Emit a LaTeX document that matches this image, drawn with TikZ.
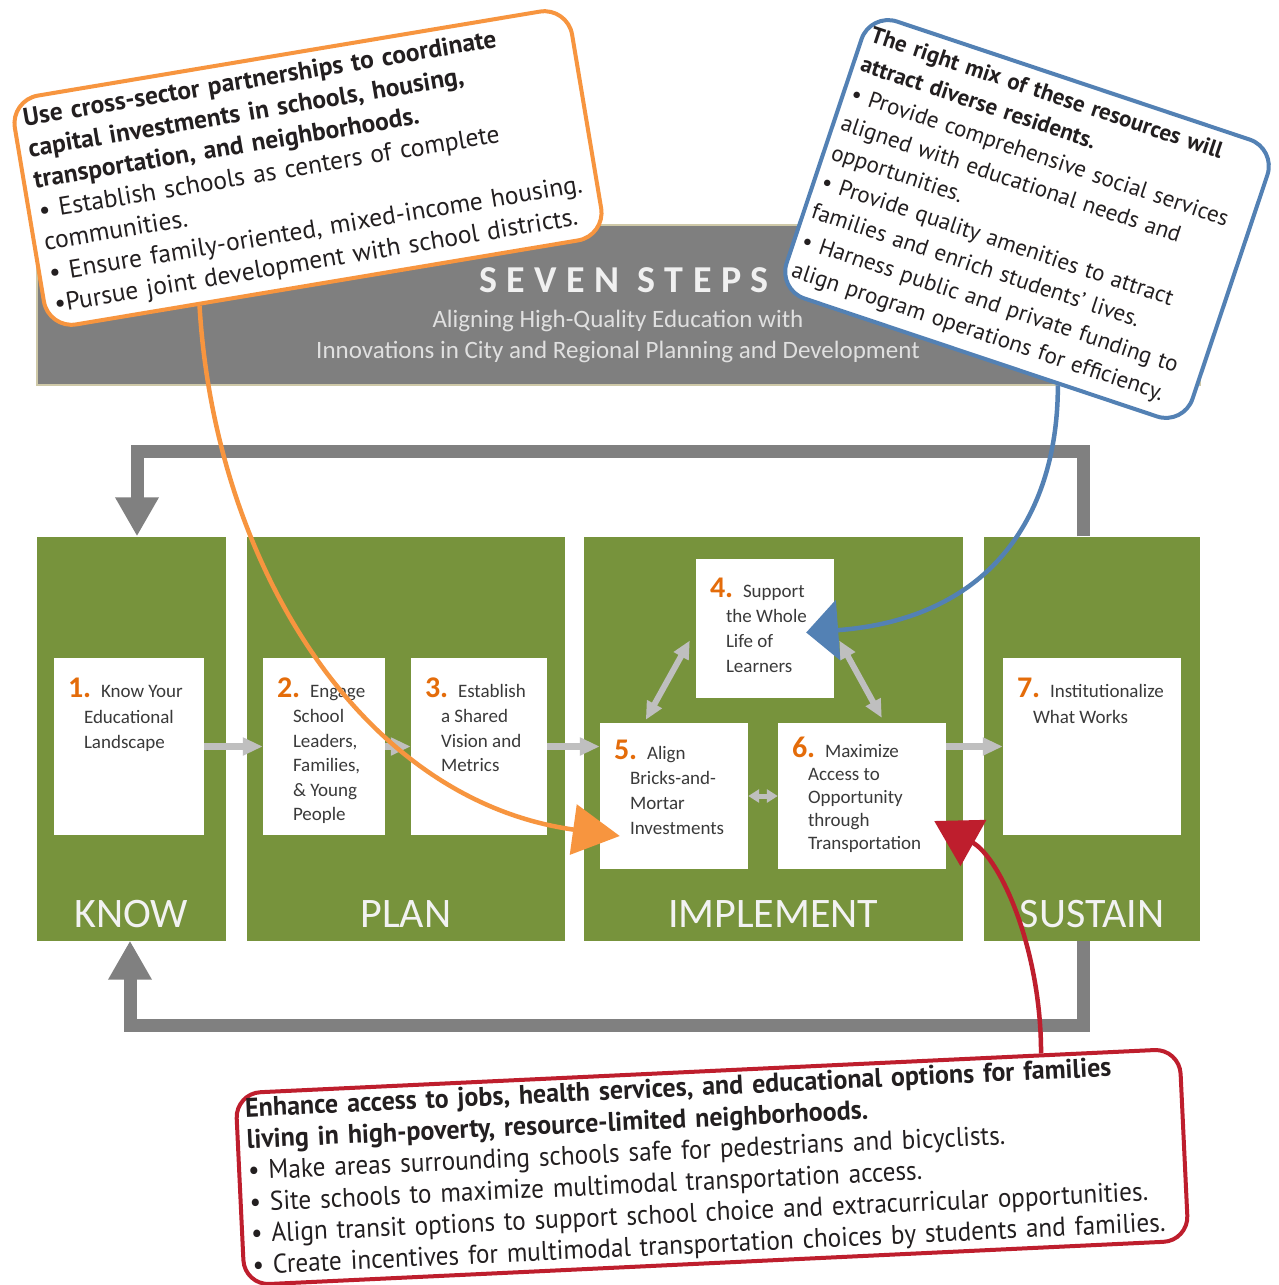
\documentclass[tikz,border=0pt]{standalone}
\usepackage{fontspec}
\usetikzlibrary{arrows.meta,calc}
\newfontfamily\carl{Carlito}
\newfontfamily\titlef[LetterSpace=25]{Carlito}
\newfontfamily\calf{PT Sans}
\newfontfamily\caln[FakeStretch=0.933]{PT Sans}
\newfontfamily\calnb[FakeStretch=0.963]{PT Sans}
\definecolor{grn}{HTML}{77933C}
\definecolor{bannergray}{HTML}{7F7F7F}
\definecolor{banneredge}{HTML}{CFC9A8}
\definecolor{loopgray}{HTML}{808080}
\definecolor{argray}{HTML}{BFBFBF}
\definecolor{numorange}{HTML}{E46C0A}
\definecolor{txtgray}{HTML}{3A3A3A}
\definecolor{corange}{HTML}{F7953F}
\definecolor{cblue}{HTML}{5381B4}
\definecolor{cred}{HTML}{BE1E2D}
\definecolor{calltext}{HTML}{231F20}
\newcommand\steplines[6]{%
  \node[stepnum, anchor=base west] (#1num) at ($(#1.north west)+(14,#6)$) {#2};
  \node[steptxt, anchor=base west] (#1first) at ($(#1.north west)+(47,#6)$) {#3};
  \foreach \t [count=\i] in {#4} {\node[steptxt, anchor=base west] (#1line\i) at ($(#1.north west)+(30,#6+\i*#5)$) {\t};}
}
\begin{document}
\begin{tikzpicture}[x=1pt,y=-1pt,
  banner/.style={fill=bannergray, draw=banneredge, line width=2pt, inner sep=0pt},
  col/.style={fill=grn, inner sep=0pt},
  stepbox/.style={fill=white, inner sep=0pt},
  steptxt/.style={font=\carl\fontsize{19}{24}\selectfont, text=txtgray, inner sep=0pt},
  stepnum/.style={font=\carl\bfseries\fontsize{30}{30}\selectfont, text=numorange, inner sep=0pt},
  lbl/.style={font=\carl\fontsize{42}{42}\selectfont, text=white!95!black, inner sep=0pt},
  loopline/.style={draw=loopgray, line width=13pt, line join=miter, -{Triangle[length=39pt,width=41pt]}},
  stepar/.style={draw=argray, line width=7pt, -{Triangle[length=20pt,width=17pt]}},
  stepdbl/.style={draw=argray, line width=6pt, {Triangle[length=18pt,width=16pt]}-{Triangle[length=18pt,width=16pt]}},
  stepdblsmall/.style={draw=argray, line width=5pt, {Triangle[length=11pt,width=13pt]}-{Triangle[length=11pt,width=13pt]}},
  callout/.style={fill=white, line width=4pt, rounded corners=28pt, inner xsep=10pt, inner ysep=0pt, align=left, text=calltext},
  conn/.style={line width=4.5pt}
]
\useasboundingbox (0,0) rectangle (1279,1285);
\fill[white] (0,0) rectangle (1279,1285);

% banner
\node[banner, minimum width=1163pt, minimum height=160pt] (banner) at (618.5,305) {};
\node[font=\titlef\bfseries\fontsize{38}{38}\selectfont, text=white!94!black, anchor=base, inner sep=0pt] (title) at (624,292) {SEVEN STEPS};
\node[font=\carl\fontsize{25}{25}\selectfont, text=white!88!black, anchor=base, inner sep=0pt] (sub1) at (618,327) {Aligning High-Quality Education with};
\node[font=\carl\fontsize{25}{25}\selectfont, text=white!88!black, anchor=base, inner sep=0pt] (sub2) at (618,358) {Innovations in City and Regional Planning and Development};

% columns
\node[col, minimum width=189pt, minimum height=404pt] (know) at (131,738.5) {};
\node[col, minimum width=318pt, minimum height=404pt] (plan) at (406,738.5) {};
\node[col, minimum width=378.5pt, minimum height=404pt] (impl) at (773.25,738.5) {};
\node[col, minimum width=216pt, minimum height=404pt] (sust) at (1092,738.5) {};

% loops
\draw[loopline] ([xshift=-9pt]sust.north) -- ++(0,-85) -| ([xshift=6pt]know.north);
\draw[loopline] ([xshift=-9pt]sust.south) -- ++(0,85) -| ([xshift=-1pt]know.south);

% step boxes
\node[stepbox, minimum width=150pt, minimum height=177pt] (s1) at (129,746.5) {};
\node[stepbox, minimum width=122pt, minimum height=177pt] (s2) at (324,746.5) {};
\node[stepbox, minimum width=136pt, minimum height=177pt] (s3) at (479,746.5) {};
\node[stepbox, minimum width=138pt, minimum height=139pt] (s4) at (765,628.5) {};
\node[stepbox, minimum width=148pt, minimum height=146pt] (s5) at (674,796) {};
\node[stepbox, minimum width=168pt, minimum height=146pt] (s6) at (862,796) {};
\node[stepbox, minimum width=178pt, minimum height=177pt] (s7) at (1092,746.5) {};

\steplines{s1}{1.}{Know Your}{Educational,Landscape}{25.5}{40}
\steplines{s2}{2.}{Engage}{School,{Leaders,},{Families,},\& Young,People}{24.6}{40}
\steplines{s3}{3.}{Establish}{a Shared,Vision and,Metrics}{24.6}{40}
\steplines{s4}{4.}{Support}{the Whole,Life of,Learners}{25}{39}
\steplines{s5}{5.}{Align}{Bricks-and-,Mortar,Investments}{25}{37}
\steplines{s6}{6.}{Maximize}{Access to,Opportunity,through,Transportation}{23}{35}
\steplines{s7}{7.}{Institutionalize}{What Works}{26}{40}

% step arrows
\draw[stepar] (s1.east) -- (s2.west);
\draw[stepar] (s2.east) -- (s3.west);
\draw[stepar] (s3.east) -- (s3.east -| s5.west);
\draw[stepar] (s6.east |- s7.west) -- (s7.west);
\draw[stepdblsmall] (s5.east) -- (s6.west);
\draw[stepdbl] ($(s5.north west)+(46,-3)$) -- ($(s4.west)+(-6,12)$);
\draw[stepdbl] ($(s4.east)+(5,12)$) -- ($(s6.north west)+(104,-5)$);

% column labels
\coordinate (lblline) at (0,927);
\node[lbl, anchor=base] (lknow) at (know |- lblline) {KNOW};
\node[lbl, anchor=base] (lplan) at (plan |- lblline) {PLAN};
\node[lbl, anchor=base] (limpl) at (impl |- lblline) {IMPLEMENT};
\node[lbl, anchor=base] (lsust) at (sust |- lblline) {SUSTAIN};

% callouts
\node[callout, draw=corange, rotate=9.5, minimum width=565pt, minimum height=232pt, text width=545pt,
  font=\calf\fontsize{25.5}{31.5}\selectfont] (oc) at (308,168) {%
\textbf{Use cross-sector partnerships to coordinate}\\
\textbf{capital investments in schools, housing,}\\
\textbf{transportation, and neighborhoods.}\\
• Establish schools as centers of complete\\
communities.\\
• Ensure family-oriented, mixed-income housing.\\
•Pursue joint development with school districts.};

\node[callout, draw=cblue, rotate=-18.5, minimum width=428pt, minimum height=292pt, text width=412pt,
  inner xsep=8pt, font=\calf\fontsize{23}{31}\selectfont] (bc) at (1027,219) {%
\textbf{The right mix of these resources will}\\
\textbf{attract diverse residents.}\\
• Provide comprehensive social services\\
aligned with educational needs and\\
opportunities.\\
• Provide quality amenities to attract\\
families and enrich students’ lives.\\
• Harness public and private funding to\\
align program operations for efficiency.};

\node[callout, draw=cred, rotate=2.7, minimum width=945pt, minimum height=192pt, text width=927pt,
  inner xsep=9pt, rounded corners=25pt, font=\caln\fontsize{27}{31.5}\selectfont] (rc) at (712,1167) {%
{\calnb\bfseries Enhance access to jobs, health services, and educational options for families}\\
{\calnb\bfseries living in high-poverty, resource-limited neighborhoods.}\\
• Make areas surrounding schools safe for pedestrians and bicyclists.\\
• Site schools to maximize multimodal transportation access.\\
• Align transit options to support school choice and extracurricular opportunities.\\
• Create incentives for multimodal transportation choices by students and families.};

% connectors
\draw[conn, draw=corange, -{Triangle[length=47pt,width=50pt]}]
  ($(oc.south west)!0.272!(oc.south east)$) .. controls +(15,256) and ($(s5.west)+(-240,4)$) .. ($(s5.west)+(20,40)$);
\draw[conn, draw=cblue, -{Triangle[length=32pt,width=60pt]}]
  ($(bc.south west)!0.69!(bc.south east)$) .. controls +(0,125) and ($(s4.east)+(161,-10)$) .. ($(s4.east)+(-28,4)$);
\draw[conn, draw=cred, -{Triangle[length=45pt,width=52pt]}]
  ($(rc.north west)!0.852!(rc.north east)$) .. controls +(0,-105) and ($(s6.east)+(54,62)$) .. ($(s6.east)+(-12,25)$);
\end{tikzpicture}
\end{document}
